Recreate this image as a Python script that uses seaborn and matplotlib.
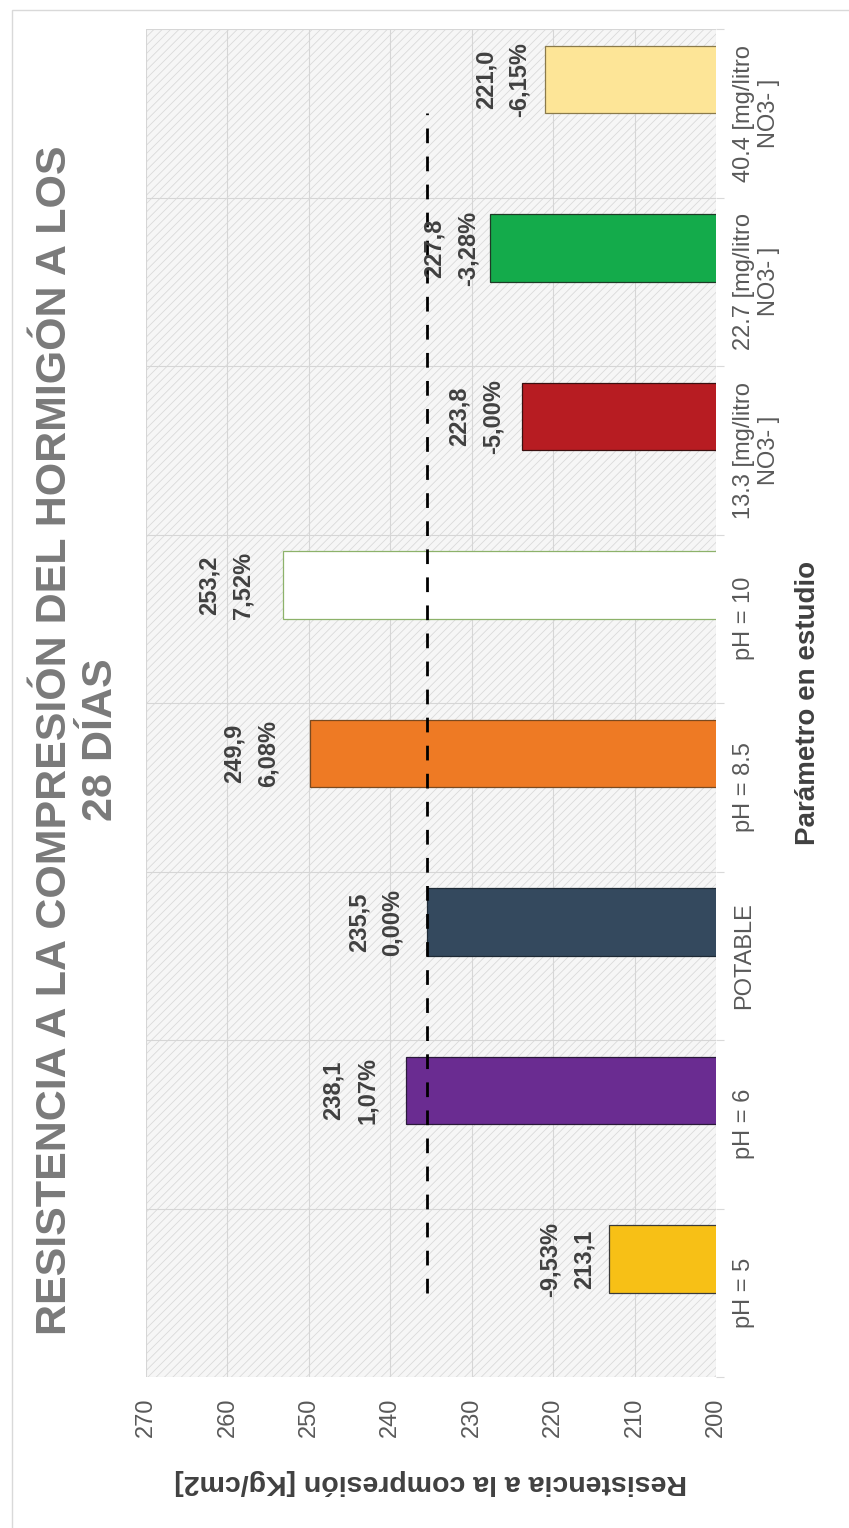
import numpy as np
import pandas as pd
import matplotlib
matplotlib.use("Agg")
import matplotlib.pyplot as plt
import seaborn as sns
from matplotlib.patches import Rectangle

# ---------------- data ----------------
categories = ["pH = 5", "pH = 6", "POTABLE", "pH = 8.5", "pH = 10",
              "13.3 [mg/litro\nNO3- ]", "22.7 [mg/litro\nNO3- ]", "40.4 [mg/litro\nNO3- ]"]
resistencia = [213.1, 238.1, 235.5, 249.9, 253.2, 223.8, 227.8, 221.0]
resistencia_txt = ["213,1", "238,1", "235,5", "249,9", "253,2", "223,8", "227,8", "221,0"]
variacion_txt = ["-9,53%", "1,07%", "0,00%", "6,08%", "7,52%", "-5,00%", "-3,28%", "-6,15%"]
pct_first = [True, False, False, False, False, False, False, False]
referencia = [235.5, 235.5, 235.5, 235.5, 235.5, 235.5, 235.5, 235.5]
value_ticks = [200, 210, 220, 230, 240, 250, 260, 270]

# ---------------- style ----------------
bar_colors = ["#F7C016", "#6A2C91", "#34495E", "#EE7A24", "#FFFFFF",
              "#B71C22", "#14AB4B", "#FDE597"]
edge_colors = ["#3a3a3a", "#2a1a3a", "#1e2a36", "#7a4a20", "#8DB26A",
               "#3a1010", "#1e3a26", "#8a7a4a"]
label_gap_px = [14, 27, 23, 30, 28, 18, 10, 14]

sns.set_style("white")
plt.rcParams["font.family"] = ["Liberation Sans", "DejaVu Sans"]
plt.rcParams["hatch.linewidth"] = 0.6

W, H = 849, 1528
fig = plt.figure(figsize=(W / 100, H / 100), dpi=100)
L, R, T, B = 146, 716, 29, 1377
ax = fig.add_axes([L / W, 1 - B / H, (R - L) / W, (B - T) / H])

# hatched background
ax.set_facecolor("#f6f6f6")
ax.patch.set_hatch("////")
ax.patch.set_edgecolor("#dadada")
ax.patch.set_linewidth(0)

df = pd.DataFrame({
    "cat": categories * 2,
    "val": [0.0] * len(categories) + resistencia,
    "serie": ["aux"] * len(categories) + ["main"] * len(categories),
})
sns.barplot(data=df, x="val", y="cat", hue="serie", hue_order=["aux", "main"],
            order=categories, orient="h", width=0.8, dodge=True, legend=False,
            palette=["white", "white"], ax=ax, zorder=3)

ax.set_xlim(270, 200)
ax.set_ylim(-0.5, 7.5)

main = ax.containers[1]
for i, bar in enumerate(main):
    bar.set_facecolor(bar_colors[i])
    bar.set_edgecolor(edge_colors[i])
    bar.set_linewidth(0.9)
for bar in ax.containers[0]:
    bar.set_visible(False)

# reference dashed line
ax.plot(referencia, np.arange(len(categories)), color="black", lw=2,
        linestyle=(0, (5.3, 4.8)), zorder=4)

# data labels
for i, bar in enumerate(main):
    yc = bar.get_y() + bar.get_height() / 2
    if pct_first[i]:
        txt = variacion_txt[i] + "\n" + resistencia_txt[i]
    else:
        txt = resistencia_txt[i] + "\n" + variacion_txt[i]
    ax.annotate(txt, xy=(resistencia[i], yc), xytext=(-label_gap_px[i] * 0.72, 0),
                textcoords="offset points", rotation=90, ha="right", va="center",
                multialignment="center", fontsize=17, fontweight="bold",
                color="#404040", linespacing=1.6, zorder=5)

# axes / ticks
ax.set_xticks(value_ticks)
ax.set_xticklabels([str(v) for v in value_ticks])
ax.tick_params(axis="x", length=0, pad=15, labelsize=17, labelcolor="#595959",
               labelrotation=90)
ax.yaxis.tick_right()
ax.set_yticks(np.arange(len(categories)))
ax.set_yticklabels(categories)
ax.tick_params(axis="y", which="major", length=0, pad=12, labelsize=17,
               labelcolor="#595959")
for lab in ax.get_yticklabels():
    lab.set_rotation(90)
    lab.set_ha("left")
    lab.set_va("center")
    lab.set_multialignment("center")
ax.set_yticks(np.arange(len(categories) + 1) - 0.5, minor=True)
ax.tick_params(axis="y", which="minor", length=6, color="#d9d9d9", width=0.8,
               right=True, left=False)

ax.set_axisbelow(True)
ax.grid(axis="x", which="major", color="#d6d6d6", lw=0.8, zorder=1)
ax.grid(axis="y", which="minor", color="#d6d6d6", lw=0.8, zorder=1)
ax.grid(axis="y", which="major", visible=False)
for s in ax.spines.values():
    s.set_visible(False)
ax.set_xlabel("")
ax.set_ylabel("")

# axis titles
fig.text(431 / W, 1 - 1482 / H, "Resistencia a la compresión [Kg/cm2]",
         rotation=180, ha="center", va="center", fontsize=20.5, fontweight="bold",
         color="#404040")
fig.text(808 / W, 1 - 703 / H, "Parámetro en estudio", rotation=90,
         ha="center", va="center", fontsize=20, fontweight="bold", color="#404040")

# title
fig.text(78 / W, 1 - 740 / H,
         "RESISTENCIA A LA COMPRESIÓN DEL HORMIGÓN A LOS\n28 DÍAS",
         rotation=90, ha="center", va="center", multialignment="center",
         fontsize=31, fontweight="bold", color="#7a7a7a", linespacing=1.2)

# chart area border
fig.add_artist(Rectangle((12 / W, -0.1), 1.2, 1.1 - 10 / H,
                         transform=fig.transFigure, fill=False,
                         edgecolor="#d9d9d9", lw=1))

fig.savefig("out.png", dpi=100)
